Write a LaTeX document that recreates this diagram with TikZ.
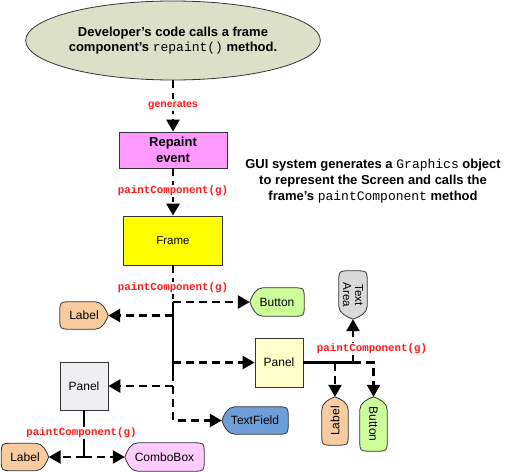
\documentclass[tikz,border=0pt]{standalone}
\usepackage{fontspec}
\setmainfont{Liberation Sans}
\setmonofont{Liberation Mono}
\usetikzlibrary{arrows.meta,calc,shapes.geometric,backgrounds}
\definecolor{rpOlive}{HTML}{DDE0C9}
\definecolor{rpViolet}{HTML}{FF99FF}
\definecolor{rpYellow}{HTML}{FFFF00}
\definecolor{rpCream}{HTML}{FFFFCC}
\definecolor{rpMist}{HTML}{EEEEF3}
\definecolor{rpPeach}{HTML}{F9CBA0}
\definecolor{rpLime}{HTML}{CCFF99}
\definecolor{rpSky}{HTML}{6E9ED8}
\definecolor{rpPink}{HTML}{FFCCFF}
\definecolor{rpGrey}{HTML}{D9D9D9}
\definecolor{rpRed}{HTML}{FF1A1A}
\definecolor{rpEdge}{HTML}{333333}
% display outline behind a node: #1 node, #2 fill, #3 tip side, #4 round side
\newcommand{\rpdisp}[4]{%
  \begin{pgfonlayer}{background}
  \draw[draw=rpEdge, line width=0.8pt, fill=#2]
    (#1.#3)
    .. controls ($(#1.#3)!0.45!($(#1.north #3)!5pt!(#1.north #4)$)$) and ($(#1.north #3)!6pt!(#1.north #4)$) .. ($(#1.north #3)!13pt!(#1.north #4)$)
    -- ($(#1.north #4)!11pt!(#1.north #3)$)
    .. controls (#1.north #4) .. ($(#1.north #4)!11pt!(#1.south #4)$)
    -- ($(#1.south #4)!11pt!(#1.north #4)$)
    .. controls (#1.south #4) .. ($(#1.south #4)!11pt!(#1.south #3)$)
    -- ($(#1.south #3)!13pt!(#1.south #4)$)
    .. controls ($(#1.south #3)!6pt!(#1.south #4)$) and ($(#1.#3)!0.45!($(#1.south #3)!5pt!(#1.south #4)$)$) .. (#1.#3) -- cycle;
  \end{pgfonlayer}}

\begin{document}
\begin{tikzpicture}[x=1pt, y=-1pt,
  box/.style={draw=rpEdge, line width=0.8pt, inner sep=0pt, align=center},
  disp/.style={inner sep=0pt, align=center, font=\fontsize{12}{12}\selectfont},
  dline/.style={line width=2.6pt, dash pattern=on 8pt off 5pt},
  sline/.style={line width=2.6pt},
  darr/.style={dline, -{Triangle[length=12pt, width=13pt]}},
  call/.style={text=rpRed, fill=white, inner sep=1pt, font=\fontsize{10.8}{12}\selectfont\ttfamily\bfseries}]
\useasboundingbox (0,0) rectangle (511,471);

% ── repaint request and the frame ──
\node[ellipse, draw=rpEdge, line width=0.8pt, fill=rpOlive, minimum width=282pt, minimum height=79pt,
  inner sep=0pt, align=center, font=\fontsize{13}{15}\selectfont\bfseries] (dev) at (173,40.5)
  {Developer’s code calls a frame\\component’s \texttt{\mdseries repaint()} method.};
\node[box, fill=rpViolet, minimum width=108pt, minimum height=36pt, font=\fontsize{13}{16}\selectfont\bfseries] (rep) at (173,150) {Repaint\\event};
\node[box, fill=rpYellow, minimum width=99pt, minimum height=49pt, font=\fontsize{11.5}{13}\selectfont] (frame) at (173,240.5) {Frame};
\node[align=center, font=\fontsize{13}{16}\selectfont\bfseries] (gui) at (373,181)
  {GUI system generates a \texttt{\mdseries Graphics} object\\to represent the Screen and calls the\\frame’s \texttt{\mdseries paintComponent} method};

% ── components ──
\node[box, fill=rpCream, minimum width=48pt, minimum height=49pt, font=\fontsize{12}{13}\selectfont] (pnlR) at (279,362.5) {Panel};
\node[box, fill=rpMist, minimum width=48pt, minimum height=48pt, font=\fontsize{12}{13}\selectfont] (pnlL) at (84,386) {Panel};
\node[disp, minimum width=54pt, minimum height=28pt] (btn) at (277,302) {Button};
\node[disp, minimum width=48pt, minimum height=27pt] (lblA) at (84,315.5) {Label};
\node[disp, minimum width=66pt, minimum height=27pt] (tfield) at (255,420.5) {TextField};
\node[disp, minimum width=79pt, minimum height=28pt] (combo) at (164.5,457) {ComboBox};
\node[disp, minimum width=47pt, minimum height=27pt] (lblB) at (25,457) {Label};
\node[disp, rotate=-90, minimum width=48pt, minimum height=28pt, font=\fontsize{11.5}{12}\selectfont] (tarea) at (353,295) {Text\\Area};
\node[disp, rotate=90, minimum width=48pt, minimum height=26pt] (lblV) at (335,421) {Label};
\node[disp, rotate=-90, minimum width=54pt, minimum height=27pt] (btnV) at (373.5,424) {Button};
\rpdisp{btn}{rpLime}{west}{east}
\rpdisp{lblA}{rpPeach}{east}{west}
\rpdisp{tfield}{rpSky}{west}{east}
\rpdisp{combo}{rpPink}{west}{east}
\rpdisp{lblB}{rpPeach}{east}{west}
\rpdisp{tarea}{rpGrey}{east}{west}
\rpdisp{lblV}{rpPeach}{east}{west}
\rpdisp{btnV}{rpLime}{west}{east}

% ── junctions ──
\coordinate (fj1) at (173,302);
\coordinate (fj2) at (173,315.5);
\coordinate (fj3) at (173,362.5);
\coordinate (fjs) at (173,373);
\coordinate (fj4) at (173,386);
\coordinate (pj) at (353,362.5);
\coordinate (pjl) at (335,362.5);
\coordinate (lj) at (84,457);

% ── connectors ──
\draw[darr] (dev) -- (rep);
\draw[darr] (rep) -- (frame);
\draw[dline] (frame) -- (fj1);
\draw[sline] (fj1) -- (fjs);
\draw[dline] (fjs) -- (fj4);
\draw[darr] (fjs) |- (tfield);
\foreach \a/\b in {fj1/btn,fj2/lblA,fj3/pnlR,fj4/pnlL}{\draw[darr] (\a) -- (\b);}
\draw[sline] (pnlR) -- (pj);
\draw[darr] (pj) -| (btnV);
\draw[darr] (pj) -- (tarea);
\draw[darr] (pjl) -- (lblV);
\draw[sline] (pnlL) -- (lj);
\foreach \b in {lblB,combo}{\draw[darr] (lj) -- (\b);}

% ── call labels ──
\node[text=rpRed, fill=white, inner sep=1pt, font=\fontsize{10.5}{12}\selectfont\bfseries] (gen) at (173,105) {generates};
\node[call] (pc1) at (173,191) {paintComponent(g)};
\node[call] (pc2) at (173,288) {paintComponent(g)};
\node[call] (pc3) at (372,349) {paintComponent(g)};
\node[call] (pc4) at (81.5,433) {paintComponent(g)};
\end{tikzpicture}
\end{document}
